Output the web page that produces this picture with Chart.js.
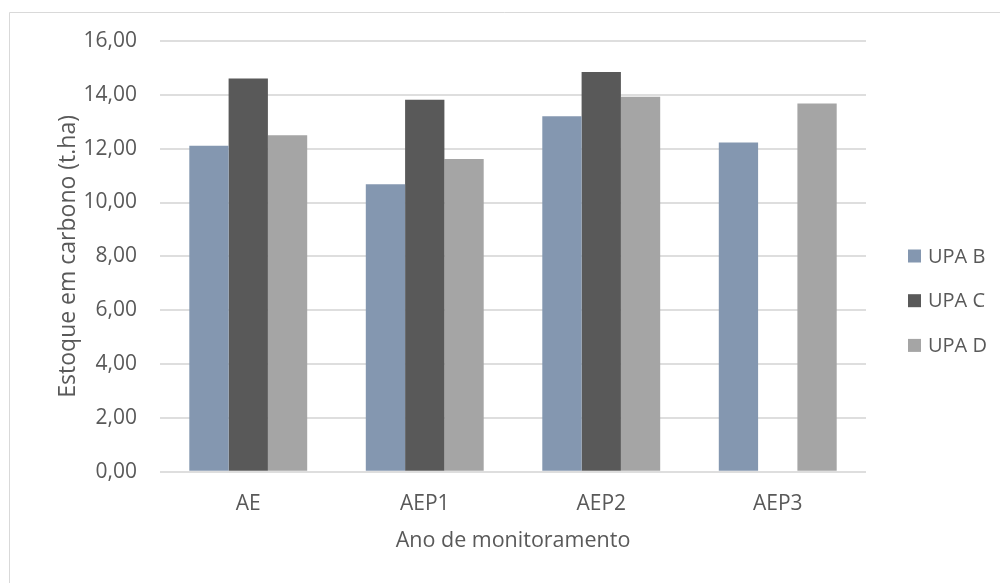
<!DOCTYPE html>
<html>
<head>
<meta charset="utf-8">
<script src="https://cdn.jsdelivr.net/npm/chart.js@4/dist/chart.umd.min.js"></script>
<style>
  html, body { margin: 0; padding: 0; background: #fff; }
  #wrap { width: 1000px; height: 583px; position: relative; }
</style>
</head>
<body>
<div id="wrap"><canvas id="myChart" width="1000" height="583"></canvas></div>
<script>
let categories = ['AE', 'AEP1', 'AEP2', 'AEP3'];
let seriesNames = ['UPA B', 'UPA C', 'UPA D'];
let upaB = [12.11, 10.68, 13.20, 12.23];
let upaC = [14.61, 13.82, 14.85, null];
let upaD = [12.50, 11.62, 13.93, 13.68];
let yTickLabels = ['0,00', '2,00', '4,00', '6,00', '8,00', '10,00', '12,00', '14,00', '16,00'];
let colors = ['#8497b0', '#595959', '#a5a5a5'];
let textColor = '#595959';
let fontName = "'Open Sans', sans-serif";

// legend drawn by hand so it sits where excel put it
let legendPlugin = {
  id: 'sideLegend',
  beforeDraw(chart) {
    let ctx = chart.ctx;
    ctx.save();
    ctx.fillStyle = '#fff';
    ctx.fillRect(0, 0, chart.width, chart.height);
    ctx.strokeStyle = '#d9d9d9';
    ctx.lineWidth = 1;
    ctx.beginPath();
    ctx.moveTo(9.5, chart.height);
    ctx.lineTo(9.5, 12.5);
    ctx.lineTo(chart.width, 12.5);
    ctx.stroke();
    ctx.restore();
  },
  afterDraw(chart) {
    let ctx = chart.ctx;
    ctx.save();
    ctx.font = '20px ' + fontName;
    ctx.textBaseline = 'middle';
    chart.data.datasets.forEach((ds, i) => {
      let y = 256 + i * 44.7;
      ctx.fillStyle = ds.backgroundColor;
      ctx.fillRect(908, y - 6.5, 13, 13);
      ctx.fillStyle = textColor;
      ctx.fillText(ds.label, 928, y + 1);
    });
    ctx.restore();
  }
};

let ctx = document.getElementById('myChart').getContext('2d');
let myChart = new Chart(ctx, {
  type: 'bar',
  data: {
    labels: categories,
    datasets: [
      { label: seriesNames[0], data: upaB, backgroundColor: colors[0] },
      { label: seriesNames[1], data: upaC, backgroundColor: colors[1] },
      { label: seriesNames[2], data: upaD, backgroundColor: colors[2] }
    ]
  },
  options: {
    responsive: false,
    animation: false,
    categoryPercentage: 0.668,
    barPercentage: 1,
    layout: { padding: { left: 10, right: 134, top: 41, bottom: 0 } },
    plugins: {
      legend: { display: false },
      tooltip: { enabled: false }
    },
    scales: {
      x: {
        afterFit: (s) => { s.height = 111.3; },
        grid: { display: false, drawTicks: false },
        border: { display: false },
        ticks: { color: textColor, font: { family: fontName, size: 21 }, padding: 20 },
        title: {
          display: true,
          text: 'Ano de monitoramento',
          color: textColor,
          font: { family: fontName, size: 21.5 },
          padding: { top: 10, bottom: 29 }
        }
      },
      y: {
        afterFit: (s) => { s.width = 150; },
        min: 0,
        max: 16,
        grid: { color: '#dedede', lineWidth: 2, drawTicks: false },
        border: { display: false },
        ticks: {
          stepSize: 2,
          color: textColor,
          font: { family: fontName, size: 21 },
          padding: 23,
          callback: (v, i) => yTickLabels[i]
        },
        title: {
          display: true,
          text: 'Estoque em carbono (t.ha)',
          color: textColor,
          font: { family: fontName, size: 23 },
          padding: { top: 45, bottom: 10 }
        }
      }
    }
  },
  plugins: [legendPlugin]
});
</script>
</body>
</html>
